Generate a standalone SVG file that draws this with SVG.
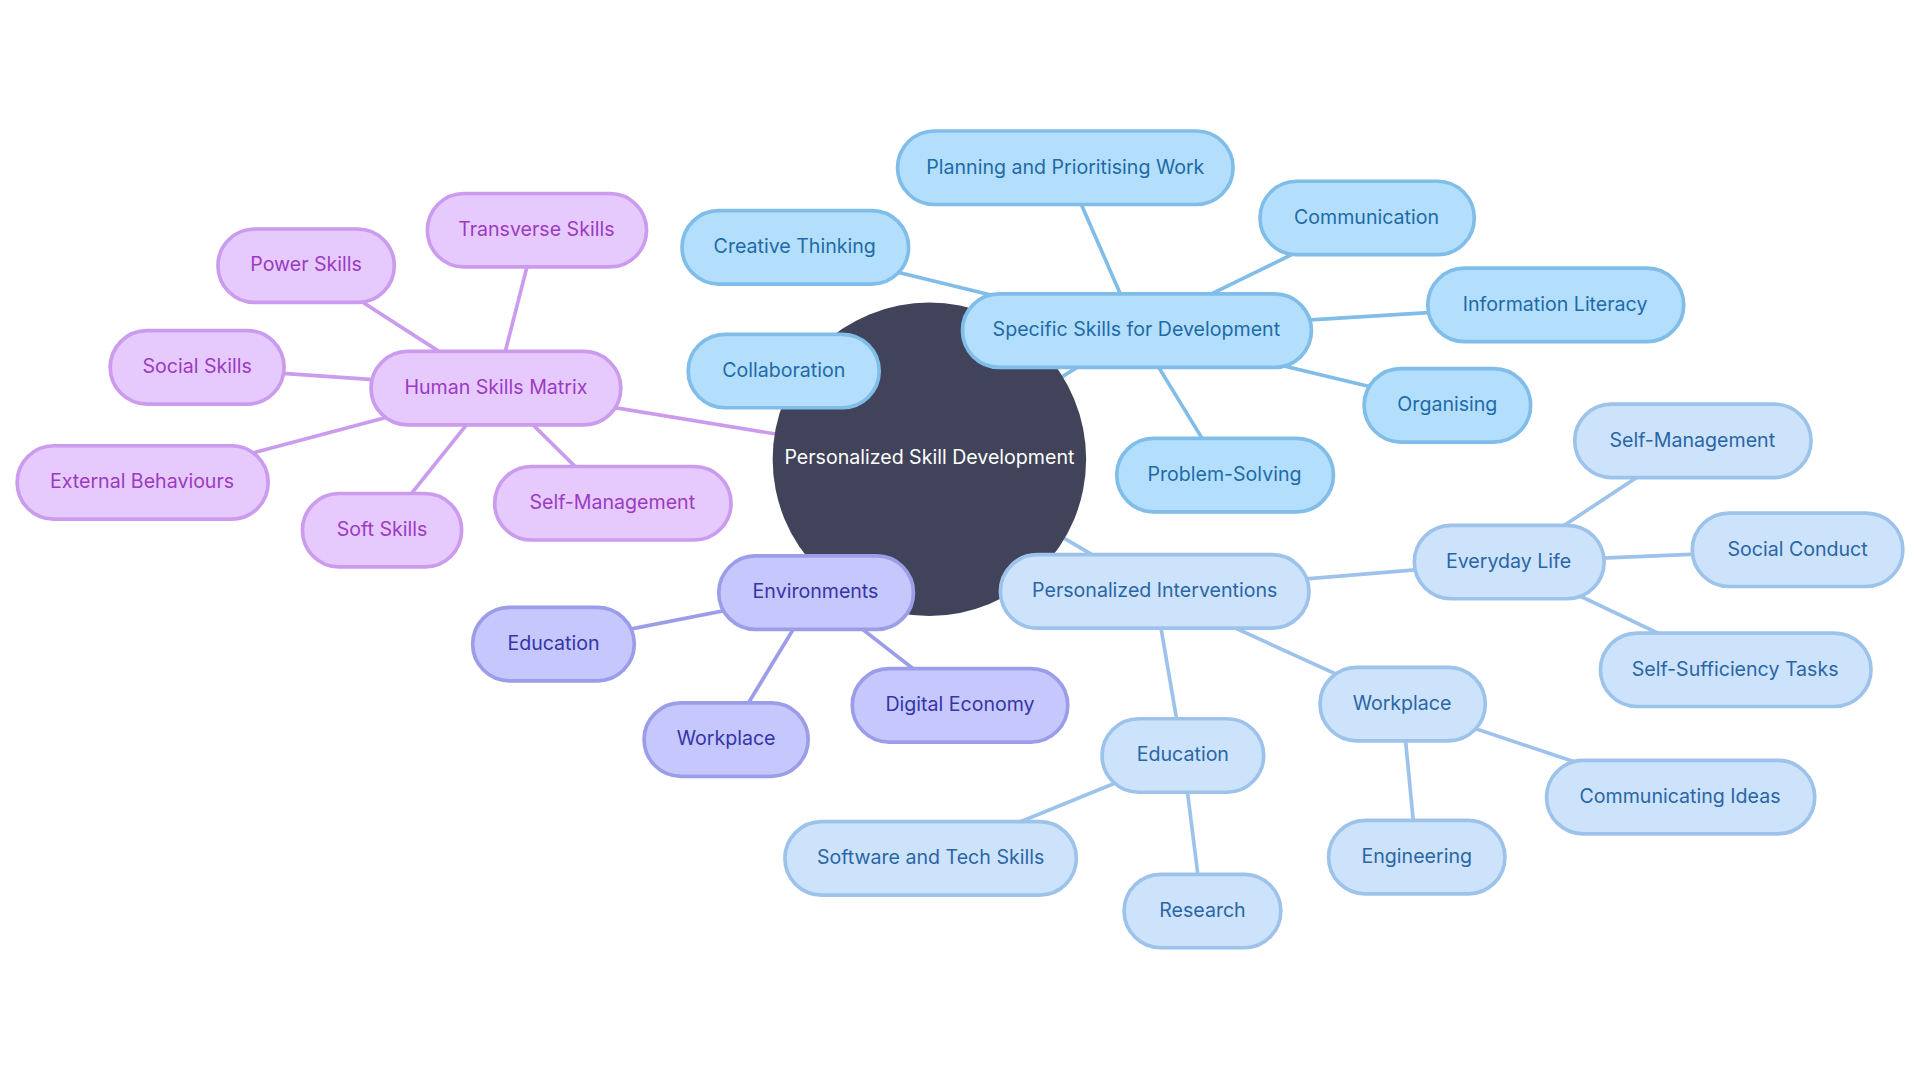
<svg xmlns="http://www.w3.org/2000/svg" width="1920" height="1080" viewBox="0 0 1920 1080">
<style>
text{font-family:Inter,"Noto Sans",sans-serif;font-size:16px;text-anchor:middle;dominant-baseline:central}
rect{stroke-width:3}
.b rect{fill:#b3dffc;stroke:#80bde9}.b text{fill:#1f6aa8}
.l rect{fill:#cde3fb;stroke:#9dc3eb}.l text{fill:#2a66a6}
.p rect{fill:#c6c8fd;stroke:#9c9de8}.p text{fill:#3535a6}
.v rect{fill:#e7cafd;stroke:#cb9bee}.v text{fill:#9a3bc2}
#edges line{stroke-width:3}
.eb{stroke:#80bde9}.el{stroke:#9dc3eb}.ep{stroke:#9c9de8}.ev{stroke:#cb9bee}
</style>
<rect width="1920" height="1080" fill="#ffffff"/>
<g transform="scale(1.2245)">
<g id="edges">
<line class="eb" x1="759" y1="375" x2="928" y2="270"/>
<line class="eb" x1="928" y1="270" x2="870" y2="137"/>
<line class="eb" x1="928" y1="270" x2="1116" y2="178"/>
<line class="eb" x1="928" y1="270" x2="1270" y2="249"/>
<line class="eb" x1="928" y1="270" x2="1182" y2="331"/>
<line class="eb" x1="928" y1="270" x2="1000" y2="388"/>
<line class="eb" x1="928" y1="270" x2="650" y2="202"/>
<line class="el" x1="759" y1="375" x2="943" y2="483"/>
<line class="el" x1="943" y1="483" x2="1232" y2="459"/>
<line class="el" x1="1232" y1="459" x2="1382" y2="360"/>
<line class="el" x1="1232" y1="459" x2="1468" y2="449"/>
<line class="el" x1="1232" y1="459" x2="1417" y2="547"/>
<line class="el" x1="943" y1="483" x2="1145" y2="575"/>
<line class="el" x1="1145" y1="575" x2="1372" y2="651"/>
<line class="el" x1="1145" y1="575" x2="1157" y2="700"/>
<line class="el" x1="943" y1="483" x2="966" y2="617"/>
<line class="el" x1="966" y1="617" x2="760" y2="701"/>
<line class="el" x1="966" y1="617" x2="982" y2="744"/>
<line class="ep" x1="759" y1="375" x2="666" y2="484"/>
<line class="ep" x1="666" y1="484" x2="452" y2="526"/>
<line class="ep" x1="666" y1="484" x2="593" y2="604"/>
<line class="ep" x1="666" y1="484" x2="784" y2="576"/>
<line class="ev" x1="759" y1="375" x2="405" y2="317"/>
<line class="ev" x1="405" y1="317" x2="438" y2="188"/>
<line class="ev" x1="405" y1="317" x2="250" y2="217"/>
<line class="ev" x1="405" y1="317" x2="161" y2="300"/>
<line class="ev" x1="405" y1="317" x2="116" y2="394"/>
<line class="ev" x1="405" y1="317" x2="312" y2="433"/>
<line class="ev" x1="405" y1="317" x2="500" y2="411"/>
</g>
<g id="center"><circle cx="759" cy="375" r="128" fill="#40435a"/><text x="759" y="373" fill="#ffffff">Personalized Skill Development</text></g>
<g id="specific" class="b"><rect x="786" y="240" width="285" height="60" rx="30"/><text x="928" y="269">Specific Skills for Development</text></g>
<g id="planning" class="b"><rect x="733" y="107" width="274" height="60" rx="30"/><text x="870" y="136">Planning and Prioritising Work</text></g>
<g id="communication" class="b"><rect x="1029" y="148" width="175" height="60" rx="30"/><text x="1116" y="177">Communication</text></g>
<g id="infolit" class="b"><rect x="1166" y="219" width="209" height="60" rx="30"/><text x="1270" y="248">Information Literacy</text></g>
<g id="organising" class="b"><rect x="1114" y="301" width="136" height="60" rx="30"/><text x="1182" y="330">Organising</text></g>
<g id="problem" class="b"><rect x="912" y="358" width="177" height="60" rx="30"/><text x="1000" y="387">Problem-Solving</text></g>
<g id="creative" class="b"><rect x="557" y="172" width="185" height="60" rx="30"/><text x="649" y="201">Creative Thinking</text></g>
<g id="collab" class="b"><rect x="562" y="273" width="156" height="60" rx="30"/><text x="640" y="302">Collaboration</text></g>
<g id="interventions" class="l"><rect x="817" y="453" width="252" height="60" rx="30"/><text x="943" y="482">Personalized Interventions</text></g>
<g id="everyday" class="l"><rect x="1155" y="429" width="155" height="60" rx="30"/><text x="1232" y="458">Everyday Life</text></g>
<g id="selfman2" class="l"><rect x="1286" y="330" width="193" height="60" rx="30"/><text x="1382" y="359">Self-Management</text></g>
<g id="social" class="l"><rect x="1382" y="419" width="172" height="60" rx="30"/><text x="1468" y="448">Social Conduct</text></g>
<g id="selfsuff" class="l"><rect x="1307" y="517" width="221" height="60" rx="30"/><text x="1417" y="546">Self-Sufficiency Tasks</text></g>
<g id="workplace2" class="l"><rect x="1078" y="545" width="135" height="60" rx="30"/><text x="1145" y="574">Workplace</text></g>
<g id="commideas" class="l"><rect x="1263" y="621" width="219" height="60" rx="30"/><text x="1372" y="650">Communicating Ideas</text></g>
<g id="engineering" class="l"><rect x="1085" y="670" width="144" height="60" rx="30"/><text x="1157" y="699">Engineering</text></g>
<g id="education2" class="l"><rect x="900" y="587" width="132" height="60" rx="30"/><text x="966" y="616">Education</text></g>
<g id="software" class="l"><rect x="641" y="671" width="238" height="60" rx="30"/><text x="760" y="700">Software and Tech Skills</text></g>
<g id="research" class="l"><rect x="918" y="714" width="128" height="60" rx="30"/><text x="982" y="743">Research</text></g>
<g id="environments" class="p"><rect x="587" y="454" width="159" height="60" rx="30"/><text x="666" y="483">Environments</text></g>
<g id="education1" class="p"><rect x="386" y="496" width="132" height="60" rx="30"/><text x="452" y="525">Education</text></g>
<g id="workplace1" class="p"><rect x="526" y="574" width="134" height="60" rx="30"/><text x="593" y="603">Workplace</text></g>
<g id="digital" class="p"><rect x="696" y="546" width="176" height="60" rx="30"/><text x="784" y="575">Digital Economy</text></g>
<g id="human" class="v"><rect x="303" y="287" width="204" height="60" rx="30"/><text x="405" y="316">Human Skills Matrix</text></g>
<g id="transverse" class="v"><rect x="349" y="158" width="179" height="60" rx="30"/><text x="438" y="187">Transverse Skills</text></g>
<g id="power" class="v"><rect x="178" y="187" width="144" height="60" rx="30"/><text x="250" y="216">Power Skills</text></g>
<g id="socialskills" class="v"><rect x="90" y="270" width="142" height="60" rx="30"/><text x="161" y="299">Social Skills</text></g>
<g id="external" class="v"><rect x="14" y="364" width="205" height="60" rx="30"/><text x="116" y="393">External Behaviours</text></g>
<g id="soft" class="v"><rect x="247" y="403" width="130" height="60" rx="30"/><text x="312" y="432">Soft Skills</text></g>
<g id="selfman1" class="v"><rect x="404" y="381" width="193" height="60" rx="30"/><text x="500" y="410">Self-Management</text></g>
</g>
</svg>
